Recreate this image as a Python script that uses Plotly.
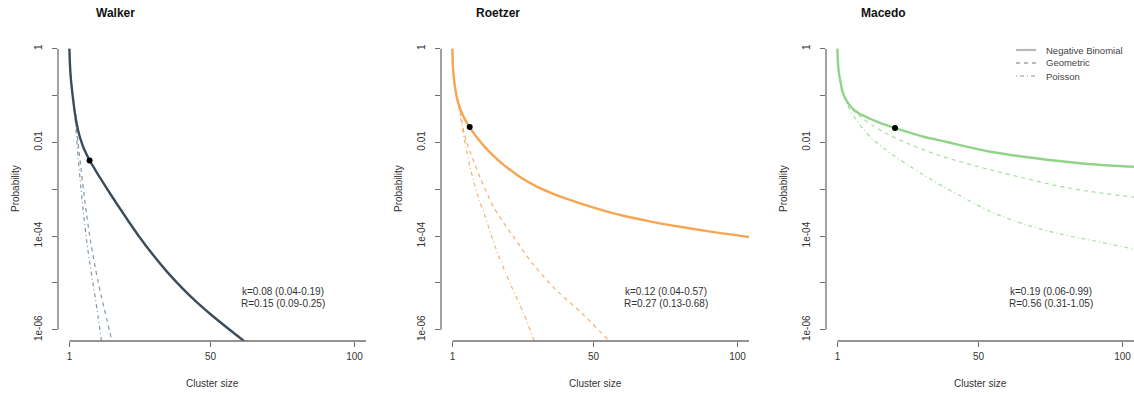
import plotly.graph_objects as go
import math

# ---------------- data ----------------
panels = ["Walker", "Roetzer", "Macedo"]
k_text = ["k=0.08 (0.04-0.19)", "k=0.12 (0.04-0.57)", "k=0.19 (0.06-0.99)"]
r_text = ["R=0.15 (0.09-0.25)", "R=0.27 (0.13-0.68)", "R=0.56 (0.31-1.05)"]

x_ticks = [1, 50, 100]
y_ticks = [1, 0.1, 0.01, 0.001, 1e-4, 1e-5, 1e-6]
y_ticklabels = ["1", "", "0.01", "", "1e-04", "", "1e-06"]
legend_labels = ["Negative Binomial", "Geometric", "Poisson"]

# Walker
walker_nb_x = [1, 1.15, 1.4, 2, 3, 4, 5, 6, 8, 10, 12, 15, 20, 25, 30, 35, 40, 45, 50, 55, 62]
walker_nb_p = [1, 0.525, 0.275, 0.117, 0.0389, 0.0182, 0.0110, 0.00741, 0.00417, 0.00257,
               0.00162, 8.32e-4, 2.85e-4, 1.02e-4, 3.98e-5, 1.70e-5, 7.94e-6, 3.98e-6,
               2.14e-6, 1.20e-6, 5.50e-7]
walker_geo_x = [1, 1.5, 2, 2.6, 3.2, 4, 5, 6, 7, 8, 9, 10, 11, 12, 13, 14, 15, 16]
walker_geo_p = [1, 0.251, 0.120, 0.0562, 0.0282, 0.0100, 0.00282, 8.51e-4, 2.82e-4, 1.05e-4,
                4.47e-5, 2.09e-5, 1.05e-5, 5.37e-6, 3.02e-6, 1.66e-6, 8.91e-7, 5.01e-7]
walker_poi_x = [1, 1.5, 2, 2.6, 3.3, 4, 5, 6, 7, 8, 9, 10, 11, 12, 12.5]
walker_poi_p = [1, 0.251, 0.120, 0.0525, 0.0182, 0.00501, 0.00105, 2.63e-4, 7.94e-5, 2.82e-5,
                1.15e-5, 4.68e-6, 1.82e-6, 6.61e-7, 3.98e-7]
walker_obs = (8, 0.0041)

# Roetzer
roetzer_nb_x = [1, 1.15, 1.5, 2, 2.5, 3, 4, 5, 6, 7, 8, 10, 12, 15, 19, 25, 30, 35, 40, 50, 60, 70, 80, 90, 104]
roetzer_nb_p = [1, 0.447, 0.240, 0.138, 0.0933, 0.0708, 0.0468, 0.0339, 0.0263, 0.0209, 0.0170,
                0.0117, 0.00832, 0.00537, 0.00324, 0.00174, 0.00117, 8.51e-4, 6.46e-4,
                4.07e-4, 2.75e-4, 2.04e-4, 1.58e-4, 1.26e-4, 9.55e-5]
roetzer_geo_x = [1, 1.5, 2, 3, 4, 5, 6, 7.4, 10.8, 15.5, 22, 29, 37, 45.5, 55.5, 57]
roetzer_geo_p = [1, 0.240, 0.138, 0.0708, 0.0355, 0.0166, 0.0100, 0.00575, 0.00166, 3.98e-4,
                 1.0e-4, 2.51e-5, 7.08e-6, 2.40e-6, 5.75e-7, 4.79e-7]
roetzer_poi_x = [1, 1.5, 2, 3, 4, 5, 6, 7, 8.5, 10.4, 12, 14.5, 17, 21.3, 25.9, 29.4, 30]
roetzer_poi_p = [1, 0.240, 0.138, 0.0708, 0.0302, 0.0132, 0.00631, 0.00316, 0.00141, 5.62e-4,
                 3.02e-4, 1.05e-4, 3.80e-5, 8.91e-6, 2.09e-6, 5.75e-7, 4.68e-7]
roetzer_obs = (7, 0.0214)

# Macedo
macedo_nb_x = [1, 1.2, 1.55, 2, 2.7, 3.5, 4.5, 6, 8, 10, 12.6, 16, 20.9, 25, 31, 39, 45, 54, 65, 77, 88, 104]
macedo_nb_p = [1, 0.501, 0.295, 0.209, 0.126, 0.0933, 0.0724, 0.0550, 0.0437, 0.0372, 0.0316,
               0.0257, 0.0204, 0.0170, 0.0132, 0.0102, 0.00832, 0.00631, 0.00501, 0.00407,
               0.00347, 0.00302]
macedo_geo_x = [1, 1.2, 1.55, 2, 2.7, 3.5, 4.5, 6, 8, 10, 13, 17, 21, 26, 31, 37, 43, 50, 55, 65, 77, 88, 104]
macedo_geo_p = [1, 0.501, 0.295, 0.209, 0.126, 0.0912, 0.0692, 0.0513, 0.0398, 0.0316, 0.0234,
                0.0166, 0.0126, 0.00912, 0.00692, 0.00513, 0.00398, 0.00302, 0.00251, 0.00178,
                0.00120, 9.12e-4, 6.76e-4]
macedo_poi_x = [1, 1.2, 1.55, 2, 2.7, 3.5, 4.5, 6, 8, 10, 13, 17, 21, 26, 31, 38, 46, 55, 67, 78, 90, 104]
macedo_poi_p = [1, 0.501, 0.295, 0.209, 0.126, 0.0891, 0.0631, 0.0417, 0.0282, 0.0191, 0.0120,
                0.00759, 0.00501, 0.00316, 0.00200, 0.00112, 6.03e-4, 3.16e-4, 1.70e-4,
                1.12e-4, 7.94e-5, 5.25e-5]
macedo_obs = (21, 0.0204)

series = [
    (walker_nb_x, walker_nb_p, walker_geo_x, walker_geo_p, walker_poi_x, walker_poi_p, walker_obs),
    (roetzer_nb_x, roetzer_nb_p, roetzer_geo_x, roetzer_geo_p, roetzer_poi_x, roetzer_poi_p, roetzer_obs),
    (macedo_nb_x, macedo_nb_p, macedo_geo_x, macedo_geo_p, macedo_poi_x, macedo_poi_p, macedo_obs),
]

# ---------------- styling ----------------
W, H = 1134, 396
FONT = "Liberation Sans, Arial, Helvetica, sans-serif"
solid_colors = ["#3b4d5a", "#f6a551", "#90d48a"]
dash_colors = ["#8398a8", "#f7b06a", "#a6dd9e"]
AX = "#6f6f6f"
TXT = "#333333"

left_px = [58, 441, 826]
plot_w = 308
top_px, bot_px = 37.5, 341
x_range = [-2.96, 103.96]
y_range = [-6.24, 0.24]


def px_x(p):
    return p / W


def px_y(p):
    return 1 - p / H


def yfrac(v):
    return (math.log10(v) - y_range[0]) / (y_range[1] - y_range[0])


fig = go.Figure()
layout = dict(
    width=W, height=H, margin=dict(l=0, r=0, t=0, b=0),
    paper_bgcolor="white", plot_bgcolor="white", showlegend=False,
    font=dict(family=FONT, size=10, color=TXT),
)
shapes = []
annotations = []

for i, (nbx, nbp, gx, gp, px_, pp, obs) in enumerate(series):
    n = "" if i == 0 else str(i + 1)
    xa, ya = "x" + n, "y" + n
    L = left_px[i]
    layout["xaxis" + n] = dict(
        domain=[px_x(L), min(1.0, px_x(L + plot_w))], range=x_range, anchor=ya,
        tickmode="array", tickvals=x_ticks, ticktext=[str(t) for t in x_ticks],
        ticks="outside", ticklen=5, tickwidth=1, tickcolor=AX,
        showline=False, showgrid=False, zeroline=False,
        tickfont=dict(size=10, color=TXT), ticklabelstandoff=1,
    )
    layout["yaxis" + n] = dict(
        domain=[px_y(bot_px), px_y(top_px)], type="log", range=y_range, anchor=xa,
        tickmode="array", tickvals=y_ticks, ticktext=y_ticklabels, tickangle=-90,
        ticks="outside", ticklen=5, tickwidth=1, tickcolor=AX,
        showline=False, showgrid=False, zeroline=False,
        tickfont=dict(size=10, color=TXT), ticklabelstandoff=6,
    )
    # axis lines (as R draws them)
    shapes.append(dict(type="line", xref=xa + " domain", yref=ya + " domain",
                       x0=0, x1=0, y0=yfrac(y_ticks[-1]), y1=yfrac(y_ticks[0]),
                       line=dict(color=AX, width=1.3)))
    shapes.append(dict(type="line", xref=xa, yref=ya + " domain",
                       x0=x_ticks[0], x1=x_range[1], y0=0, y1=0,
                       line=dict(color=AX, width=1.3)))

    fig.add_trace(go.Scatter(x=px_, y=pp, xaxis=xa, yaxis=ya, mode="lines",
                             line=dict(color=dash_colors[i], width=1.2, dash="1px,3px,4px,3px",
                                       shape="spline", smoothing=0.8),
                             hoverinfo="skip"))
    fig.add_trace(go.Scatter(x=gx, y=gp, xaxis=xa, yaxis=ya, mode="lines",
                             line=dict(color=dash_colors[i], width=1.2, dash="4px,4px",
                                       shape="spline", smoothing=0.8),
                             hoverinfo="skip"))
    fig.add_trace(go.Scatter(x=nbx, y=nbp, xaxis=xa, yaxis=ya, mode="lines",
                             line=dict(color=solid_colors[i], width=2.4,
                                       shape="spline", smoothing=1.0),
                             hoverinfo="skip"))
    fig.add_trace(go.Scatter(x=[obs[0]], y=[obs[1]], xaxis=xa, yaxis=ya, mode="markers",
                             marker=dict(color="black", size=6), hoverinfo="skip"))

    annotations.append(dict(text="<b>%s</b>" % panels[i], xref="paper", yref="paper",
                            x=px_x(L + 57), y=px_y(13), showarrow=False,
                            font=dict(size=12, color="#111111"), xanchor="center", yanchor="middle"))
    annotations.append(dict(text="Probability", xref="paper", yref="paper",
                            x=px_x(L - 43), y=px_y(189), textangle=-90, showarrow=False,
                            font=dict(size=10, color=TXT), xanchor="center", yanchor="middle"))
    annotations.append(dict(text="Cluster size", xref="paper", yref="paper",
                            x=px_x(L + 154), y=px_y(383), showarrow=False,
                            font=dict(size=10, color=TXT), xanchor="center", yanchor="middle"))
    annotations.append(dict(text=k_text[i], xref="paper", yref="paper",
                            x=px_x(L + 225), y=px_y(291), showarrow=False,
                            font=dict(size=10, color=TXT), xanchor="center", yanchor="middle"))
    annotations.append(dict(text=r_text[i], xref="paper", yref="paper",
                            x=px_x(L + 225), y=px_y(303), showarrow=False,
                            font=dict(size=10, color=TXT), xanchor="center", yanchor="middle"))

# legend (top right of the last panel)
legend_dash = ["solid", "4px,4px", "1px,3px,4px,3px"]
legend_width = [2.2, 1.2, 1.2]
legend_color = ["#b8b8b8", "#777777", "#999999"]
for j, lab in enumerate(legend_labels):
    yy = 50 + 13 * j
    shapes.append(dict(type="line", xref="paper", yref="paper",
                       x0=px_x(1016), x1=px_x(1036), y0=px_y(yy), y1=px_y(yy),
                       line=dict(color=legend_color[j], width=legend_width[j], dash=legend_dash[j])))
    annotations.append(dict(text=lab, xref="paper", yref="paper",
                            x=px_x(1044), y=px_y(yy), showarrow=False,
                            font=dict(size=9.5, color="#444444"), xanchor="left", yanchor="middle"))

layout["shapes"] = shapes
layout["annotations"] = annotations
fig.update_layout(**layout)
fig.write_html("out.html")
